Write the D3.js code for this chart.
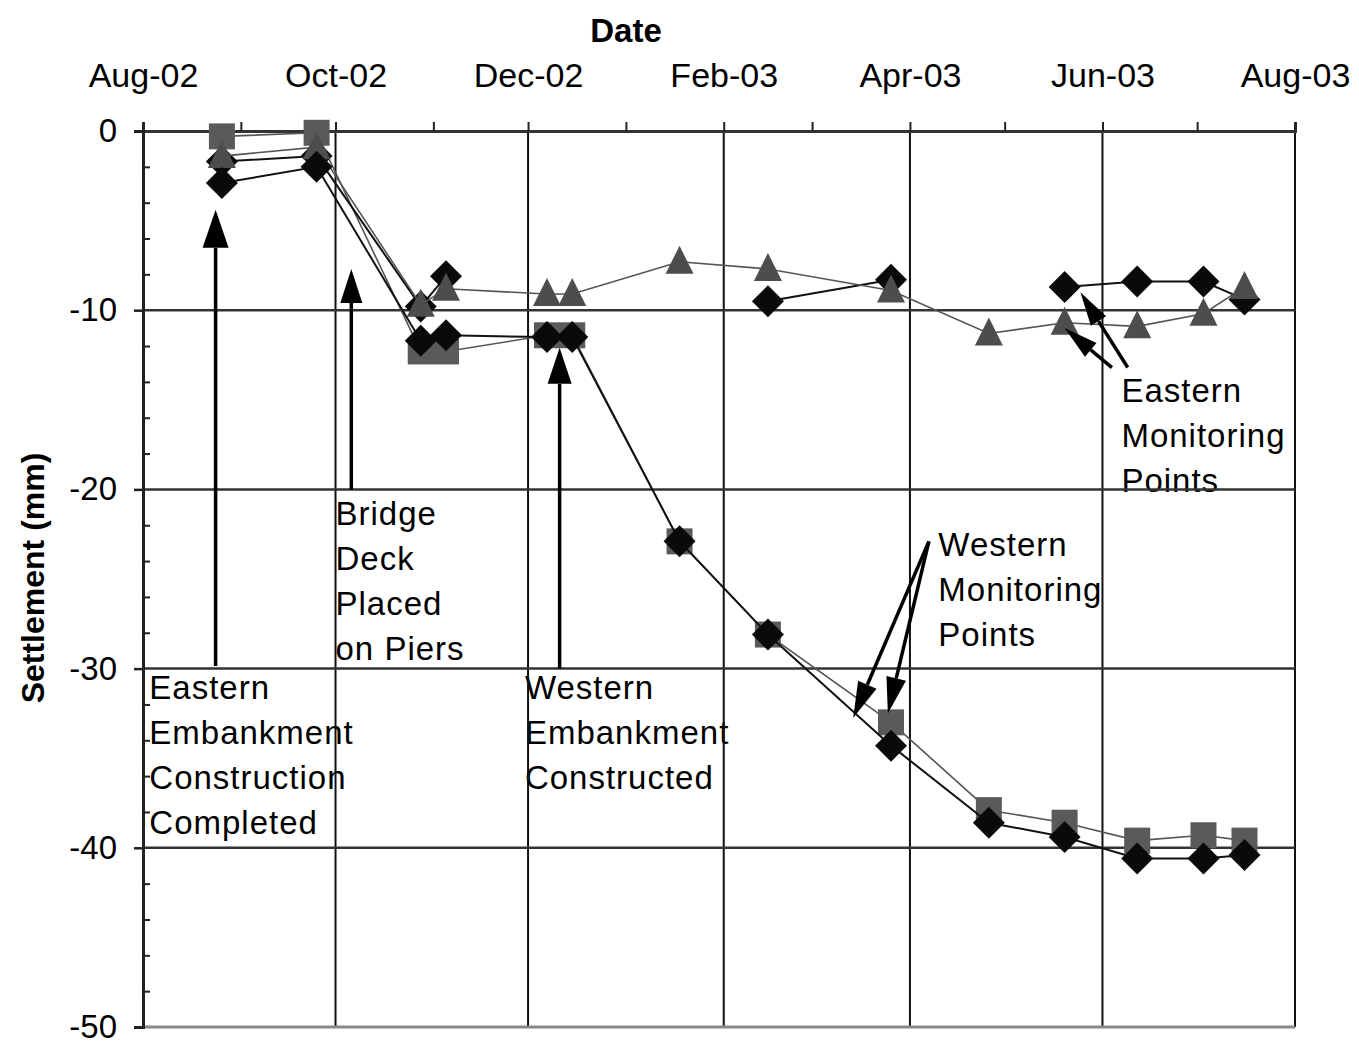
<!DOCTYPE html>
<html>
<head>
<meta charset="utf-8">
<script src="https://cdn.jsdelivr.net/npm/d3@7"></script>
<style>
  body { margin: 0; background: #fff; }
  text { font-family: "Liberation Sans", Arial, sans-serif; }
</style>
</head>
<body>
<div id="chart"></div>
<script>
const width = 1359,
    height = 1049;
const margin = { top: 131, right: 64, bottom: 22, left: 143 };

// survey dates and settlements (mm)
const dates = ["2002-08-26", "2002-09-25", "2002-10-28", "2002-11-05", "2002-12-07", "2002-12-15",
    "2003-01-18", "2003-02-15", "2003-03-26", "2003-04-26", "2003-05-20", "2003-06-12",
    "2003-07-03", "2003-07-16"];
const westSquare = [-0.3, -0.1, -12.3, -12.3, -11.4, -11.4, -22.9, -28.1, -33.0, -37.9, -38.6, -39.6, -39.3, -39.6];
const eastDiamond = [-1.7, -1.4, -9.8, -8.1, null, null, null, -9.5, -8.3, null, -8.7, -8.4, -8.4, -9.4];
const eastTriangle = [-1.4, -0.9, -9.7, -8.8, -9.1, -9.1, -7.3, -7.7, -8.9, -11.3, -10.7, -10.9, -10.2, -8.7];
const westDiamond = [-2.9, -2.0, -11.7, -11.4, -11.5, -11.5, -22.9, -28.1, -34.3, -38.6, -39.4, -40.6, -40.6, -40.4];

const yTicks = [0, -10, -20, -30, -40, -50];
const xDomain = ["2002-08-01", "2003-08-01"];

// annotations: text lines + arrows, in data units
const notes = [
    { date: "2002-08-03", y: -31.7, lines: ["Eastern", "Embankment", "Construction", "Completed"] },
    { date: "2002-10-01", y: -22.0, lines: ["Bridge", "Deck", "Placed", "on Piers"] },
    { date: "2002-11-30", y: -31.7, lines: ["Western", "Embankment", "Constructed"] },
    { date: "2003-04-10", y: -23.7, lines: ["Western", "Monitoring", "Points"] },
    { date: "2003-06-07", y: -15.1, lines: ["Eastern", "Monitoring", "Points"] }
];
const arrows = [
    { from: ["2002-08-24", -29.85], to: ["2002-08-24", -4.4], w: 26, l: 38 },
    { from: ["2002-10-06", -20.0], to: ["2002-10-06", -7.7], w: 22, l: 34 },
    { from: ["2002-12-11", -30.0], to: ["2002-12-11", -12.1], w: 24, l: 36 },
    { from: ["2003-04-07", -22.9], to: ["2003-03-14", -32.75], w: 20, l: 36 },
    { from: ["2003-04-07", -22.9], to: ["2003-03-25", -32.5], w: 20, l: 36 },
    { from: ["2003-06-09", -13.2], to: ["2003-05-25", -9.0], w: 18, l: 34 },
    { from: ["2003-06-04", -13.2], to: ["2003-05-20", -11.0], w: 18, l: 34 }
];

const parse = d3.timeParse("%Y-%m-%d");

const svg = d3.select("#chart")
    .append("svg")
    .attr("width", width)
    .attr("height", height);

const x = d3.scaleTime()
    .domain(xDomain.map(parse))
    .range([margin.left, width - margin.right]);
const y = d3.scaleLinear()
    .domain([-50, 0])
    .range([height - margin.bottom, margin.top]);

// annotation text goes underneath the grid
notes.forEach(n => {
    const t = svg.append("text")
        .attr("x", x(parse(n.date)))
        .attr("y", y(n.y))
        .style("font-size", "33px")
        .style("letter-spacing", "1px")
        .attr("fill", "#000");
    n.lines.forEach((line, i) => {
        t.append("tspan")
            .attr("x", x(parse(n.date)))
            .attr("dy", i === 0 ? 0 : 45)
            .text(line);
    });
});

// grid: every second month (Oct, Dec, Feb, ...)
const gridMonths = d3.timeMonth.range(parse("2002-09-01"), parse("2003-08-02"))
    .filter(d => d.getMonth() % 2 === 1);
svg.append("g")
    .selectAll("line")
    .data(gridMonths)
    .join("line")
    .attr("x1", d => x(d))
    .attr("x2", d => x(d))
    .attr("y1", y(0))
    .attr("y2", y(-50))
    .attr("stroke", "#111")
    .attr("stroke-width", 2);

svg.append("g")
    .selectAll("line")
    .data(yTicks.filter(v => v < 0))
    .join("line")
    .attr("x1", x.range()[0])
    .attr("x2", x.range()[1])
    .attr("y1", d => y(d))
    .attr("y2", d => y(d))
    .attr("stroke", d => d === -50 ? "#888" : "#333")
    .attr("stroke-width", d => d === -50 ? 3 : 2.5);

// top axis (dates)
const xAxis = svg.append("g")
    .attr("transform", `translate(0, ${y(0)})`)
    .call(d3.axisTop(x)
        .ticks(d3.timeMonth.every(1))
        .tickSize(9)
        .tickPadding(35)
        .tickFormat(d => d.getMonth() % 2 === 1 ? d3.timeFormat("%b-%y")(d) : ""));
xAxis.select(".domain").attr("stroke", "#333").attr("stroke-width", 3);
xAxis.selectAll(".tick line").attr("stroke", "#222").attr("stroke-width", 2);
xAxis.selectAll("text").style("font-size", "34px").attr("fill", "#000");

// left axis (settlement)
const yAxis = svg.append("g")
    .attr("transform", `translate(${margin.left}, 0)`)
    .call(d3.axisLeft(y).tickValues(yTicks).tickSize(9).tickPadding(17).tickFormat(d => String(d)));
yAxis.select(".domain").attr("stroke", "#222").attr("stroke-width", 3);
yAxis.selectAll(".tick line").attr("stroke", "#222").attr("stroke-width", 2.5);
yAxis.selectAll("text").style("font-size", "33px").attr("fill", "#000");

const yMinor = svg.append("g")
    .attr("transform", `translate(${margin.left}, 0)`)
    .call(d3.axisRight(y).tickValues(d3.range(-48, 0, 2).filter(v => v % 10 !== 0)).tickSize(7).tickFormat(""));
yMinor.select(".domain").remove();
yMinor.selectAll(".tick line").attr("stroke", "#222").attr("stroke-width", 2);

// axis titles
svg.append("text")
    .attr("x", 626)
    .attr("y", 42)
    .attr("text-anchor", "middle")
    .style("font-size", "33px")
    .style("font-weight", "bold")
    .text("Date");

svg.append("text")
    .attr("transform", `translate(44, ${(y(0) + y(-50)) / 2})`)
    .attr("transform", `translate(44, 578) rotate(-90)`)
    .attr("text-anchor", "middle")
    .style("font-size", "32px")
    .style("font-weight", "bold")
    .text("Settlement (mm)");

// series
const symbols = {
    square: "M-13,-13L13,-13L13,13L-13,13Z",
    triangle: "M0,-16L14,12L-14,12Z",
    diamond: "M0,-16L16,0L0,16L-16,0Z"
};
const series = [
    { values: westSquare, shape: "square", fill: "#5a5a5a", stroke: "#555", sw: 1.6 },
    { values: eastDiamond, shape: "diamond", fill: "#0a0a0a", stroke: "#111", sw: 2 },
    { values: eastTriangle, shape: "triangle", fill: "#4d4d4d", stroke: "#555", sw: 1.6 },
    { values: westDiamond, shape: "diamond", fill: "#0a0a0a", stroke: "#111", sw: 2 }
];

const line = d3.line()
    .defined(d => d[1] !== null)
    .x(d => x(d[0]))
    .y(d => y(d[1]));

series.forEach(s => {
    const pts = dates.map((d, i) => [parse(d), s.values[i]]);
    svg.append("path")
        .attr("d", line(pts))
        .attr("fill", "none")
        .attr("stroke", s.stroke)
        .attr("stroke-width", s.sw);
    svg.append("g")
        .selectAll("path")
        .data(pts.filter(p => p[1] !== null))
        .join("path")
        .attr("transform", p => `translate(${x(p[0])}, ${y(p[1])})`)
        .attr("d", symbols[s.shape])
        .attr("fill", s.fill);
});

// arrows
arrows.forEach(a => {
    const x1 = x(parse(a.from[0])), y1 = y(a.from[1]);
    const x2 = x(parse(a.to[0])), y2 = y(a.to[1]);
    const ang = Math.atan2(y2 - y1, x2 - x1);
    const bx = x2 - a.l * Math.cos(ang), by = y2 - a.l * Math.sin(ang);
    const px = -Math.sin(ang) * a.w / 2, py = Math.cos(ang) * a.w / 2;
    svg.append("line")
        .attr("x1", x1).attr("y1", y1)
        .attr("x2", bx).attr("y2", by)
        .attr("stroke", "#000")
        .attr("stroke-width", 3.5);
    svg.append("path")
        .attr("d", `M${x2},${y2}L${bx + px},${by + py}L${bx - px},${by - py}Z`)
        .attr("fill", "#000");
});
</script>
</body>
</html>
